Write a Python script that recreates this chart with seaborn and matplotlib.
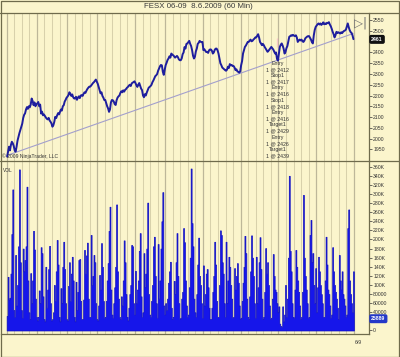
import numpy as np
import pandas as pd
import matplotlib
matplotlib.use("Agg")
import matplotlib.pyplot as plt
import matplotlib.transforms as mtransforms
from matplotlib.lines import Line2D
import seaborn as sns

# ---------------- data ----------------
title = "FESX 06-09  8.6.2009 (60 Min)"

# price, 8 readings per trading day (46 days)
price_by_day = [
    [1916, 1940, 1962, 1945, 1970, 1985, 1978, 1965],
    [1945, 1939, 1962, 1990, 2008, 2025, 2040, 2055],
    [2069, 2095, 2110, 2117, 2135, 2146, 2138, 2150],
    [2145, 2158, 2186, 2175, 2155, 2168, 2150, 2160],
    [2163, 2170, 2150, 2158, 2116, 2125, 2108, 2112],
    [2105, 2098, 2092, 2089, 2096, 2084, 2078, 2070],
    [2055, 2062, 2078, 2101, 2095, 2108, 2118, 2112],
    [2124, 2135, 2130, 2150, 2155, 2172, 2180, 2190],
    [2195, 2202, 2215, 2208, 2198, 2205, 2192, 2186],
    [2186, 2194, 2180, 2190, 2196, 2188, 2200, 2202],
    [2198, 2208, 2215, 2212, 2222, 2230, 2236, 2241],
    [2241, 2246, 2252, 2258, 2262, 2268, 2274, 2264],
    [2255, 2240, 2225, 2210, 2215, 2198, 2190, 2179],
    [2179, 2165, 2150, 2140, 2124, 2135, 2168, 2179],
    [2178, 2172, 2160, 2156, 2178, 2190, 2196, 2200],
    [2212, 2220, 2215, 2224, 2218, 2226, 2230, 2236],
    [2240, 2246, 2250, 2244, 2256, 2260, 2262, 2266],
    [2258, 2248, 2240, 2250, 2258, 2245, 2232, 2225],
    [2200, 2192, 2206, 2200, 2214, 2225, 2236, 2240],
    [2244, 2250, 2262, 2270, 2280, 2290, 2294, 2300],
    [2315, 2325, 2336, 2342, 2340, 2310, 2296, 2320],
    [2341, 2352, 2365, 2372, 2382, 2376, 2395, 2390],
    [2387, 2382, 2376, 2380, 2384, 2378, 2368, 2364],
    [2364, 2372, 2392, 2400, 2425, 2418, 2440, 2442],
    [2448, 2454, 2440, 2430, 2411, 2385, 2372, 2380],
    [2405, 2418, 2440, 2445, 2454, 2450, 2448, 2449],
    [2411, 2415, 2408, 2402, 2403, 2398, 2410, 2414],
    [2414, 2408, 2395, 2400, 2412, 2418, 2418, 2410],
    [2395, 2372, 2350, 2341, 2330, 2326, 2322, 2318],
    [2315, 2320, 2334, 2328, 2346, 2340, 2342, 2337],
    [2337, 2330, 2318, 2322, 2312, 2310, 2306, 2312],
    [2341, 2360, 2395, 2410, 2426, 2432, 2440, 2449],
    [2449, 2455, 2460, 2452, 2454, 2460, 2464, 2470],
    [2470, 2478, 2485, 2470, 2449, 2442, 2434, 2440],
    [2434, 2425, 2418, 2410, 2403, 2408, 2414, 2420],
    [2426, 2420, 2414, 2405, 2395, 2400, 2370, 2362],
    [2395, 2426, 2436, 2442, 2432, 2418, 2395, 2402],
    [2420, 2430, 2452, 2473, 2476, 2480, 2478, 2482],
    [2478, 2476, 2480, 2470, 2449, 2455, 2460, 2456],
    [2460, 2452, 2449, 2455, 2466, 2470, 2474, 2476],
    [2476, 2468, 2460, 2448, 2442, 2480, 2505, 2519],
    [2525, 2531, 2535, 2530, 2535, 2528, 2533, 2540],
    [2531, 2535, 2532, 2538, 2536, 2541, 2530, 2522],
    [2510, 2496, 2485, 2470, 2480, 2496, 2490, 2494],
    [2491, 2488, 2494, 2490, 2496, 2500, 2502, 2506],
    [2520, 2535, 2518, 2504, 2495, 2491, 2480, 2462],
]

# volume in thousands, 8 readings per trading day
volume_by_day_k = [
    [32, 118, 68, 72, 125, 212, 310, 45], [30, 166, 55, 100, 185, 354, 150, 45],
    [28, 180, 130, 155, 185, 316, 110, 40], [25, 126, 60, 110, 219, 178, 70, 30],
    [22, 30, 88, 60, 183, 170, 75, 25], [20, 140, 50, 90, 135, 186, 60, 22],
    [25, 40, 100, 65, 130, 199, 145, 30], [20, 93, 60, 140, 195, 135, 60, 25],
    [22, 98, 150, 65, 125, 162, 110, 30], [20, 107, 45, 85, 155, 157, 65, 25],
    [25, 68, 177, 125, 165, 193, 70, 30], [30, 210, 100, 120, 166, 150, 60, 25],
    [22, 55, 122, 90, 192, 140, 65, 28], [30, 65, 110, 148, 219, 272, 90, 35],
    [28, 60, 95, 140, 277, 130, 70, 30], [25, 75, 55, 110, 198, 150, 80, 30],
    [22, 50, 80, 100, 188, 185, 60, 35], [131, 60, 90, 110, 175, 214, 75, 30],
    [40, 170, 95, 125, 180, 281, 80, 35], [30, 65, 100, 185, 206, 120, 60, 28],
    [190, 70, 110, 180, 240, 304, 55, 35], [60, 45, 70, 105, 130, 151, 50, 25],
    [30, 109, 80, 150, 214, 120, 60, 25], [28, 70, 85, 225, 194, 110, 55, 30],
    [35, 95, 160, 356, 236, 185, 70, 40], [30, 80, 145, 204, 120, 100, 60, 28],
    [143, 55, 80, 125, 135, 95, 50, 25], [25, 50, 85, 120, 195, 145, 65, 30],
    [30, 100, 220, 210, 150, 125, 60, 30], [195, 60, 110, 162, 140, 100, 70, 28],
    [30, 137, 90, 120, 148, 105, 55, 25], [28, 65, 105, 140, 208, 170, 70, 30],
    [25, 75, 130, 209, 160, 120, 60, 28], [162, 60, 95, 150, 205, 135, 70, 25],
    [30, 85, 181, 125, 150, 100, 55, 25], [28, 70, 168, 120, 90, 85, 60, 40],
    [53, 15, 10, 8, 53, 20, 35, 100], [30, 70, 160, 340, 175, 130, 60, 30],
    [28, 90, 177, 140, 110, 85, 55, 25], [30, 85, 298, 160, 120, 90, 60, 28],
    [30, 210, 243, 150, 170, 100, 60, 137], [40, 95, 162, 130, 100, 80, 60, 30],
    [30, 110, 206, 145, 90, 80, 55, 28], [35, 183, 130, 100, 85, 70, 50, 25],
    [166, 110, 90, 130, 80, 70, 55, 30], [35, 225, 266, 110, 80, 60, 40, 130],
]

trend_days = [0.0, 45.9]
trend_price = [1921, 2488]
marker_days = [35.87, 35.87]
marker_price = [2425, 2466]

price_ticks = list(range(1950, 2551, 50))
# 2450 label sits behind the last-price box in the reference
price_tick_labels = ["" if t == 2450 else str(t) for t in price_ticks]
vol_ticks = list(range(0, 360001, 20000))
# 20000 label sits behind the last-volume box in the reference
vol_tick_labels = ["0", "", "40000", "60000", "80000", "100K", "120K", "140K",
                   "160K", "180K", "200K", "220K", "240K", "260K", "280K", "300K",
                   "320K", "340K", "360K"]
day_lines = list(range(0, 47))
week_lines = [0, 4, 8, 12, 17, 21, 26, 31, 36, 41, 46]
trade_lines = ["Entry", "1 @ 2412", "Stop1", "1 @ 2417", "Entry", "1 @ 2416",
               "Stop1", "1 @ 2418", "Entry", "1 @ 2416", "Target1", "1 @ 2429",
               "Entry", "1 @ 2426", "Target1", "1 @ 2439"]
last_price_label = "2461"
last_price_value = 2461
last_volume_label = "25889"
last_volume_value = 25889
x_end_label = "6/9"
copyright_text = "\u00a9 2009 NinjaTrader, LLC"
vol_title = "VOL"

# ---------------- style ----------------
sns.set_style("white")
plt.rcParams["font.family"] = ["Liberation Sans", "DejaVu Sans"]

BG = "#FBF5CC"
FRAME = "#6f6b4c"
MINOR_GRID = "#d8d1ab"
MAJOR_GRID = "#bdb799"
PRICE_C = "#1e1e9e"
VOL_C = "#1616ea"
TXT = "#333333"

W, H = 400, 357
fig = plt.figure(figsize=(W / 100, H / 100), dpi=100, facecolor=BG)

ax1 = fig.add_axes([1 / W, 1 - 161 / H, 368 / W, 148 / H], facecolor=BG)
ax2 = fig.add_axes([1 / W, 1 - 334 / H, 368 / W, 173 / H], facecolor=BG)

price = [v for row in price_by_day for v in row]
price_x = np.arange(len(price)) / 8 + 1 / 16
vol = [v * 1000 for row in volume_by_day_k for v in row]
vol_x = np.arange(len(vol)) / 8 + 1 / 16
n_days = len(volume_by_day_k)
vol_df = pd.DataFrame({"t": vol_x, "vol": vol})
price_df = pd.DataFrame({"t": price_x, "price": price})

xlim = (-0.75, 48.0)

for ax in (ax1, ax2):
    ax.set_axisbelow(True)
    ax.set_xlim(*xlim)
    ax.set_xticks(week_lines)
    ax.set_xticks(day_lines, minor=True)
    ax.grid(axis="x", which="minor", color=MINOR_GRID, linewidth=0.75)
    ax.grid(axis="x", which="major", color=MAJOR_GRID, linewidth=0.9)
    ax.grid(axis="y", visible=False)
    ax.yaxis.tick_right()
    for s in ("top", "left", "bottom"):
        ax.spines[s].set_visible(False)
    ax.spines["right"].set_color(FRAME)
    ax.spines["right"].set_linewidth(0.9)
    ax.tick_params(axis="y", which="both", labelsize=3.7, length=2, width=0.5,
                   pad=1, colors=TXT)

# ---- price panel ----
sns.lineplot(x=trend_days, y=trend_price, ax=ax1, color="#a39fcc", linewidth=0.8)
sns.lineplot(data=price_df, x="t", y="price", ax=ax1, color=PRICE_C, linewidth=1.4,
             estimator=None, sort=False)
sns.lineplot(x=marker_days, y=marker_price, ax=ax1, color="#ff30d0", linewidth=2.2)
ax1.set_ylim(1895.6, 2583.5)
ax1.set_yticks(price_ticks)
ax1.set_yticklabels(price_tick_labels)
ax1.tick_params(axis="x", which="both", length=0, labelbottom=False)
ax1.set_xlim(*xlim)
ax1.set_xlabel("")
ax1.set_ylabel("")

ax1.text(1.006, last_price_value, last_price_label,
         transform=mtransforms.blended_transform_factory(ax1.transAxes, ax1.transData),
         fontsize=3.7, color="white", fontweight="bold", va="center", ha="left",
         bbox=dict(boxstyle="round,pad=0.25", fc="#111111", ec="#111111"))

tr = mtransforms.blended_transform_factory(ax1.transData, fig.transFigure)
for i, line in enumerate(trade_lines):
    y_px = 63.3 + i * 6.16
    ax1.text(marker_days[0], 1 - y_px / H, line, transform=tr, fontsize=3.75,
             color=TXT, ha="center", va="center", clip_on=False)

# ---- volume panel ----
sns.histplot(data=vol_df, x="t", weights="vol", binwidth=0.125,
             binrange=(0, n_days), element="step", fill=True, color=VOL_C,
             alpha=1.0, linewidth=0.5, edgecolor="#1010c0", ax=ax2)
ax2.set_xlim(*xlim)
ax2.set_ylim(-7700, 372500)
ax2.set_yticks(vol_ticks)
ax2.set_yticklabels(vol_tick_labels)
ax2.spines["bottom"].set_visible(True)
ax2.spines["bottom"].set_color(FRAME)
ax2.spines["bottom"].set_linewidth(0.9)
ax2.tick_params(axis="x", which="major", length=4, width=0.6, colors="#222222",
                direction="out", labelbottom=False)
ax2.tick_params(axis="x", which="minor", length=2.5, width=0.5, colors="#222222",
                direction="out")
ax2.set_xlabel("")
ax2.set_ylabel("")
ax2.text(1.006, last_volume_value, last_volume_label,
         transform=mtransforms.blended_transform_factory(ax2.transAxes, ax2.transData),
         fontsize=3.7, color="white", fontweight="bold", va="center", ha="left",
         bbox=dict(boxstyle="round,pad=0.25", fc="#2438c8", ec="#2438c8"))

# ---- figure texts and frame ----
fig.text(198 / W, 1 - 6.5 / H, title, fontsize=5.7, color="#3a3a3a",
         ha="center", va="center")
fig.text(2.5 / W, 1 - 156.5 / H, copyright_text, fontsize=3.65, color=TXT,
         ha="left", va="center")
fig.text(3.3 / W, 1 - 170.7 / H, vol_title, fontsize=3.5, color=TXT,
         ha="left", va="center")
fig.text(358 / W, 1 - 342 / H, x_end_label, fontsize=3.7, color=TXT,
         ha="center", va="center")
fig.text(360.5 / W, 1 - 23 / H, "\u25b7|", fontsize=8.5, color="#707070",
         ha="center", va="center", family="DejaVu Sans")

for y_px in (13, 161):
    fig.add_artist(Line2D([0, 398.5 / W], [1 - y_px / H] * 2, transform=fig.transFigure,
                          color=FRAME, linewidth=0.9))
fig.add_artist(Line2D([0.5 / W, 398.5 / W, 398.5 / W, 0.5 / W, 0.5 / W],
                      [1 - 356.5 / H, 1 - 356.5 / H, 1 - 0.5 / H, 1 - 0.5 / H, 1 - 356.5 / H],
                      transform=fig.transFigure, color=FRAME, linewidth=0.9))

fig.savefig("out.png", dpi=100, facecolor=BG)
